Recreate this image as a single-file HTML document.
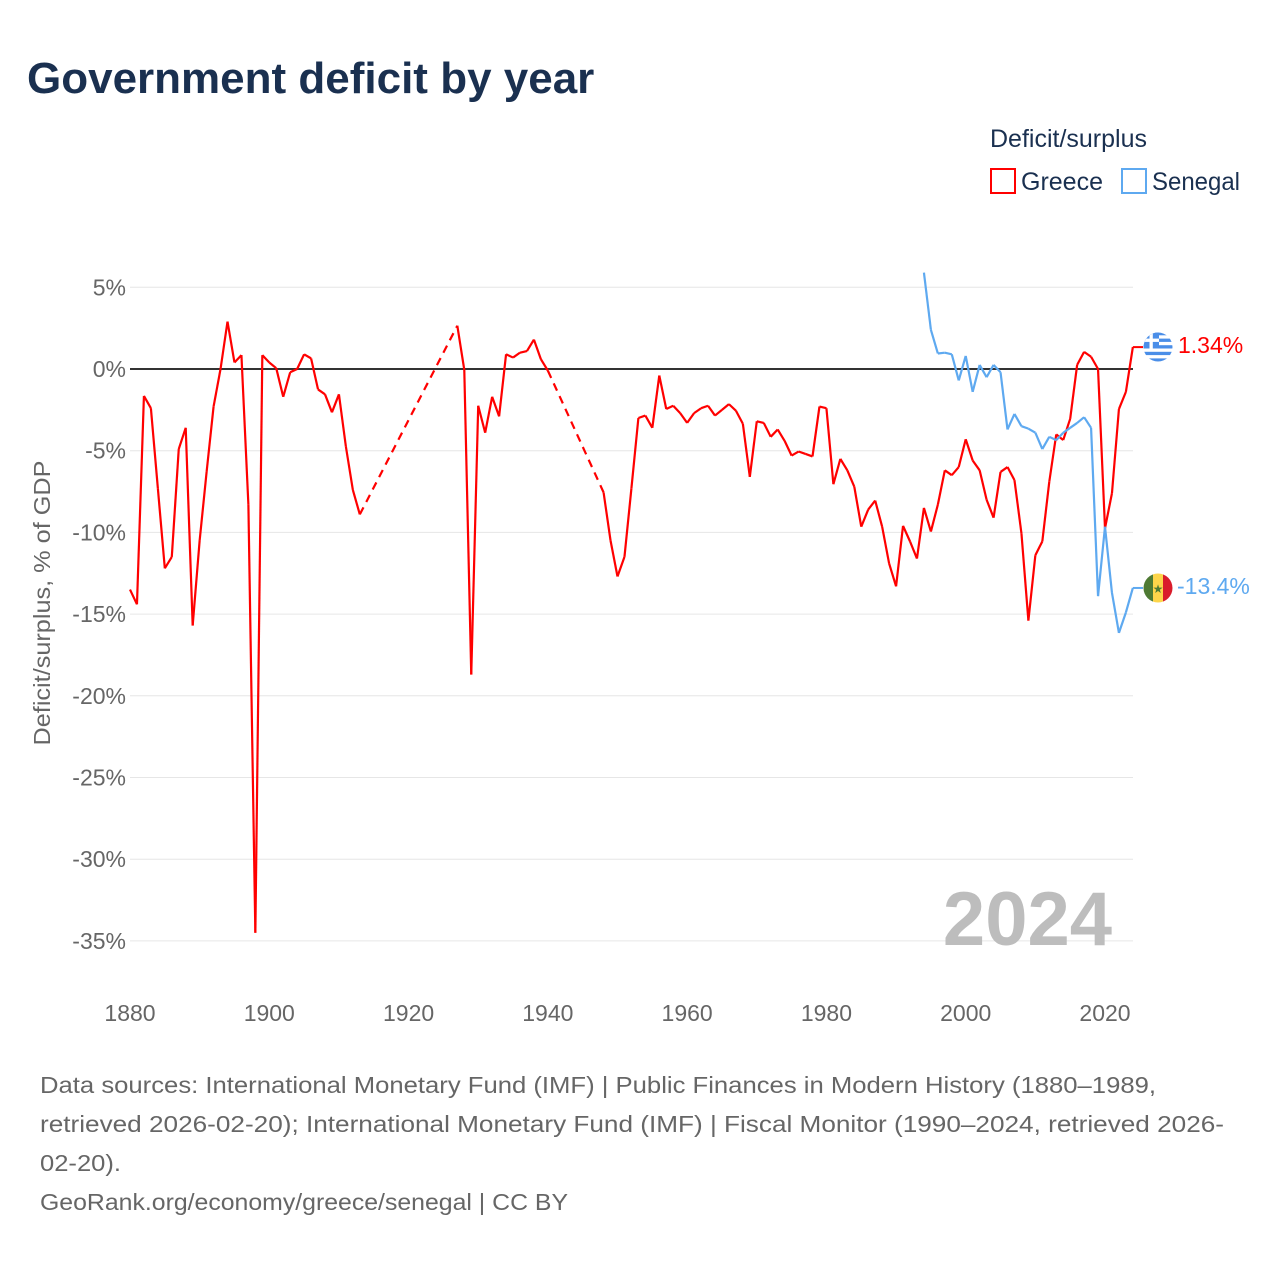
<!DOCTYPE html>
<html><head><meta charset="utf-8">
<style>
body{margin:0;background:#fff;width:1280px;height:1280px;overflow:hidden;font-family:"Liberation Sans",sans-serif;}
</style></head>
<body>
<svg id="chart" width="1280" height="1280" xmlns="http://www.w3.org/2000/svg" font-family="Liberation Sans, sans-serif">
<text x="27" y="93" font-size="44" font-weight="bold" fill="#1a3050">Government deficit by year</text>
<text x="990" y="147" font-size="25" fill="#1a3050">Deficit/surplus</text>
<g><rect x="991" y="169" width="24" height="24" fill="none" stroke="#ff0000" stroke-width="2"/><text x="1021" y="190" font-size="25" fill="#1a3050">Greece</text></g>
<g><rect x="1122" y="169" width="24" height="24" fill="none" stroke="#5ea9f0" stroke-width="2"/><text x="1152" y="190" font-size="25" fill="#1a3050" textLength="88" lengthAdjust="spacingAndGlyphs">Senegal</text></g>
<g id="grid"></g><g id="yticks"></g><g id="xticks"></g><g id="series"></g>
<text transform="translate(50,603) rotate(-90)" text-anchor="middle" font-size="23" fill="#666" textLength="285" lengthAdjust="spacingAndGlyphs">Deficit/surplus, % of GDP</text>
<text x="1112" y="945" text-anchor="end" font-size="76" font-weight="bold" fill="#bdbdbd">2024</text>
<g>
<clipPath id="cg"><circle cx="1158" cy="347" r="14.5"/></clipPath>
<g clip-path="url(#cg)"><rect x="1143" y="332" width="30" height="30" fill="#fff"/>
<rect x="1143" y="332" width="30" height="3.3" fill="#4a8ee8"/><rect x="1143" y="338.6" width="30" height="3.3" fill="#4a8ee8"/><rect x="1143" y="345.2" width="30" height="3.3" fill="#4a8ee8"/><rect x="1143" y="351.8" width="30" height="3.3" fill="#4a8ee8"/><rect x="1143" y="358.4" width="30" height="3.6" fill="#4a8ee8"/>
<rect x="1143" y="332" width="16" height="16.5" fill="#4a8ee8"/><rect x="1143" y="338.6" width="16" height="3.3" fill="#fff"/><rect x="1149.5" y="332" width="3.3" height="16.5" fill="#fff"/></g>
<text x="1178" y="353" font-size="23" fill="#ff0000">1.34%</text></g>
<g>
<clipPath id="cs"><circle cx="1158" cy="588" r="14.5"/></clipPath>
<g clip-path="url(#cs)"><rect x="1143" y="573" width="10" height="30" fill="#4e7a33"/><rect x="1153" y="573" width="10" height="30" fill="#fdd54a"/><rect x="1163" y="573" width="10" height="30" fill="#d91c2b"/></g>
<text x="1158" y="593" text-anchor="middle" font-size="12" fill="#4e7a33">★</text>
<text x="1177" y="594" font-size="23" fill="#5ea9f0">-13.4%</text></g>
<text font-size="23" fill="#666"><tspan x="40" y="1093" textLength="1116" lengthAdjust="spacingAndGlyphs">Data sources: International Monetary Fund (IMF) | Public Finances in Modern History (1880–1989,</tspan><tspan x="40" y="1132" textLength="1184" lengthAdjust="spacingAndGlyphs">retrieved 2026-02-20); International Monetary Fund (IMF) | Fiscal Monitor (1990–2024, retrieved 2026-</tspan><tspan x="40" y="1171" textLength="81" lengthAdjust="spacingAndGlyphs">02-20).</tspan><tspan x="40" y="1210" textLength="528" lengthAdjust="spacingAndGlyphs">GeoRank.org/economy/greece/senegal | CC BY</tspan></text>
</svg>
<script>
const yTickValues=[5,0,-5,-10,-15,-20,-25,-30,-35];
const xTickValues=[1880,1900,1920,1940,1960,1980,2000,2020];
const greeceYears=[1880,1881,1882,1883,1884,1885,1886,1887,1888,1889,1890,1891,1892,1893,1894,1895,1896,1897,1898,1899,1900,1901,1902,1903,1904,1905,1906,1907,1908,1909,1910,1911,1912,1913,1927,1928,1929,1930,1931,1932,1933,1934,1935,1936,1937,1938,1939,1940,1948,1949,1950,1951,1952,1953,1954,1955,1956,1957,1958,1959,1960,1961,1962,1963,1964,1965,1966,1967,1968,1969,1970,1971,1972,1973,1974,1975,1976,1977,1978,1979,1980,1981,1982,1983,1984,1985,1986,1987,1988,1989,1990,1991,1992,1993,1994,1995,1996,1997,1998,1999,2000,2001,2002,2003,2004,2005,2006,2007,2008,2009,2010,2011,2012,2013,2014,2015,2016,2017,2018,2019,2020,2021,2022,2023,2024];
const greeceValues=[-13.5,-14.4,-1.65,-2.4,-7.3,-12.2,-11.5,-4.9,-3.6,-15.7,-10.5,-6.3,-2.3,0,2.9,0.4,0.85,-8.3,-34.5,0.85,0.4,0.05,-1.7,-0.2,0,0.9,0.65,-1.25,-1.55,-2.65,-1.55,-4.75,-7.4,-8.9,2.65,-0.05,-18.7,-2.25,-3.9,-1.7,-2.9,0.9,0.7,1.0,1.1,1.8,0.6,-0.1,-7.55,-10.5,-12.7,-11.5,-7.3,-3.0,-2.85,-3.6,-0.4,-2.45,-2.25,-2.7,-3.3,-2.7,-2.4,-2.25,-2.85,-2.5,-2.15,-2.55,-3.35,-6.6,-3.2,-3.3,-4.15,-3.7,-4.4,-5.3,-5.05,-5.2,-5.35,-2.3,-2.4,-7.05,-5.5,-6.2,-7.2,-9.65,-8.6,-8.05,-9.65,-11.9,-13.3,-9.6,-10.55,-11.6,-8.5,-9.95,-8.3,-6.2,-6.5,-6.0,-4.3,-5.6,-6.2,-8.0,-9.1,-6.3,-6.0,-6.8,-10.05,-15.4,-11.4,-10.55,-6.9,-4.0,-4.35,-3.05,0.25,1.05,0.75,0.0,-9.75,-7.6,-2.45,-1.4,1.34];
const senegalYears=[1994,1995,1996,1997,1998,1999,2000,2001,2002,2003,2004,2005,2006,2007,2008,2009,2010,2011,2012,2013,2014,2015,2016,2017,2018,2019,2020,2021,2022,2023,2024];
const senegalValues=[5.9,2.4,0.95,1.0,0.9,-0.7,0.8,-1.4,0.25,-0.5,0.25,-0.2,-3.7,-2.75,-3.5,-3.65,-3.9,-4.9,-4.15,-4.35,-3.9,-3.6,-3.3,-2.95,-3.6,-13.9,-9.65,-13.7,-16.15,-14.9,-13.4];
const NS='http://www.w3.org/2000/svg';
const X0=130,X1=1133;
function xs(y){return 130+(y-1880)*(975/140);}
function ys(v){return 369-v*16.34;}
function mk(tag,attrs,parent){const e=document.createElementNS(NS,tag);for(const k in attrs)e.setAttribute(k,attrs[k]);parent.appendChild(e);return e;}
const grid=document.getElementById('grid'),yt=document.getElementById('yticks'),xt=document.getElementById('xticks'),ser=document.getElementById('series');
yTickValues.forEach(v=>{
 if(v!==0){const l=mk('line',{x1:X0,x2:X1,y1:ys(v),y2:ys(v),stroke:'#e6e6e6','stroke-width':1},grid);
 
 }
 const t=mk('text',{x:126,y:ys(v)+8,'text-anchor':'end','font-size':23,fill:'#666'},yt);
 t.textContent=v+'%';
 
 
});
xTickValues.forEach(v=>{
 const t=mk('text',{x:xs(v),y:1021,'text-anchor':'middle','font-size':23,fill:'#666'},xt);
 t.textContent=v;
 
 
});
const zl=mk('line',{x1:X0,x2:X1,y1:ys(0),y2:ys(0),stroke:'#333','stroke-width':2},grid);


function draw(years,vals,color,name){
 for(let i=1;i<years.length;i++){
  const gap=years[i]-years[i-1]>1;
  const p=mk('path',{d:'M'+xs(years[i-1])+','+ys(vals[i-1])+'L'+xs(years[i])+','+ys(vals[i]),fill:'none',stroke:color,'stroke-width':2.2,'stroke-dasharray':gap?'8,6':'none','stroke-linejoin':'round'},ser);
  
  
 }
 const last=vals.length-1;
 const c=mk('path',{d:'M'+xs(years[last])+','+ys(vals[last])+'L1143,'+ys(vals[last]),fill:'none',stroke:color,'stroke-width':2},ser);
 
 
}
draw(greeceYears,greeceValues,'#ff0000','greece');
draw(senegalYears,senegalValues,'#5ea9f0','senegal');
</script>
</body></html>
